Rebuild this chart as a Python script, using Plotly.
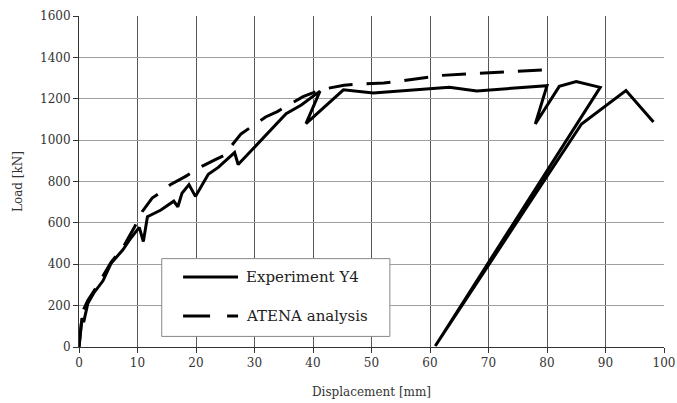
import plotly.graph_objects as go

# Experiment Y4 (solid)
exp_x = [0, 0.5, 0.8, 1.5, 2.5, 4.1, 5.5, 7.5, 8.9, 10.3, 11.0, 11.7, 14.0, 16.2, 16.9, 17.6,
         18.8, 19.9, 22.1, 23.8, 26.6, 27.2, 35.4, 38.0, 41.2, 38.8, 45.2, 50.3, 63.3, 68.0,
         80.0, 78.0, 82.1, 85.0, 89.1, 60.9, 85.9, 93.5, 98.2]
exp_y = [0, 140, 120, 210, 260, 320, 405, 470, 528, 578, 510, 630, 662, 705, 678, 743,
         785, 728, 835, 868, 940, 882, 1128, 1170, 1237, 1080, 1243, 1228, 1255, 1238,
         1263, 1078, 1260, 1283, 1255, 5, 1078, 1240, 1088]

# ATENA analysis (dashed)
atena_x = [0, 0.6, 1.5, 3.0, 5.5, 7.5, 8.5, 9.4, 10.8, 12.5, 13.7, 15.6, 18.3, 21.0, 23.3,
           24.7, 27.7, 31.9, 33.9, 38.3, 41.5, 45.3, 48.1, 52.1, 55.0, 59.5, 62.1, 66.4,
           69.3, 73.5, 76.4, 80.9]
atena_y = [0, 170, 225, 290, 410, 480, 530, 575, 654, 720, 743, 784, 826, 873, 906,
           925, 1030, 1112, 1138, 1210, 1245, 1265, 1272, 1276, 1286, 1302, 1313, 1320,
           1324, 1329, 1334, 1341]

x_ticks = list(range(0, 101, 10))
y_ticks = list(range(0, 1601, 200))

legend_labels = ["Experiment Y4", "ATENA analysis"]

SERIF = "DejaVu Serif"

fig = go.Figure()
fig.add_trace(go.Scatter(x=exp_x, y=exp_y, mode="lines", name=legend_labels[0],
                         line=dict(color="black", width=3), showlegend=False))
fig.add_trace(go.Scatter(x=atena_x, y=atena_y, mode="lines", name=legend_labels[1],
                         line=dict(color="black", width=3, dash="24px,14px"), showlegend=False))

# manual legend box (matches the reference's wide line samples)
lx0, lx1, ly0, ly1 = 0.1414, 0.5314, 0.032, 0.267
fig.add_shape(type="rect", xref="paper", yref="paper", x0=lx0, x1=lx1, y0=ly0, y1=ly1,
              line=dict(color="#888888", width=1), fillcolor="white", layer="above")
sx0, sx1 = 0.1779, 0.2719
rows = [0.2117, 0.0937]
fig.add_shape(type="line", xref="paper", yref="paper", x0=sx0, x1=sx1, y0=rows[0], y1=rows[0],
              line=dict(color="black", width=3), layer="above")
fig.add_shape(type="line", xref="paper", yref="paper", x0=sx0, x1=sx1, y0=rows[1], y1=rows[1],
              line=dict(color="black", width=3, dash="27px,17px"), layer="above")
for lab, ry in zip(legend_labels, rows):
    fig.add_annotation(xref="paper", yref="paper", x=0.2817, y=ry, text=lab, showarrow=False,
                       xanchor="left", yanchor="middle",
                       font=dict(family=SERIF, size=15, color="#222222"))

fig.update_layout(
    width=677, height=403,
    margin=dict(l=79, r=13, t=16, b=56),
    paper_bgcolor="white", plot_bgcolor="white",
    font=dict(family=SERIF, size=12, color="#333333"),
    xaxis=dict(range=[0, 100], tickvals=x_ticks, showgrid=True, gridcolor="#555555", gridwidth=1,
               showline=True, linecolor="#333333", linewidth=1, ticks="outside", ticklen=5,
               tickcolor="#333333", zeroline=False, tickfont=dict(family=SERIF, size=12),
               automargin=False,
               title=dict(text="Displacement [mm]", font=dict(family=SERIF, size=12), standoff=18)),
    yaxis=dict(range=[0, 1600], tickvals=y_ticks, showgrid=True, gridcolor="#a0a0a0", gridwidth=1,
               showline=True, linecolor="#333333", linewidth=1, ticks="outside", ticklen=5,
               tickcolor="#333333", zeroline=False, tickfont=dict(family=SERIF, size=12),
               automargin=False,
               title=dict(text="Load [kN]", font=dict(family=SERIF, size=12), standoff=14)),
)

fig.write_html("out.html")
